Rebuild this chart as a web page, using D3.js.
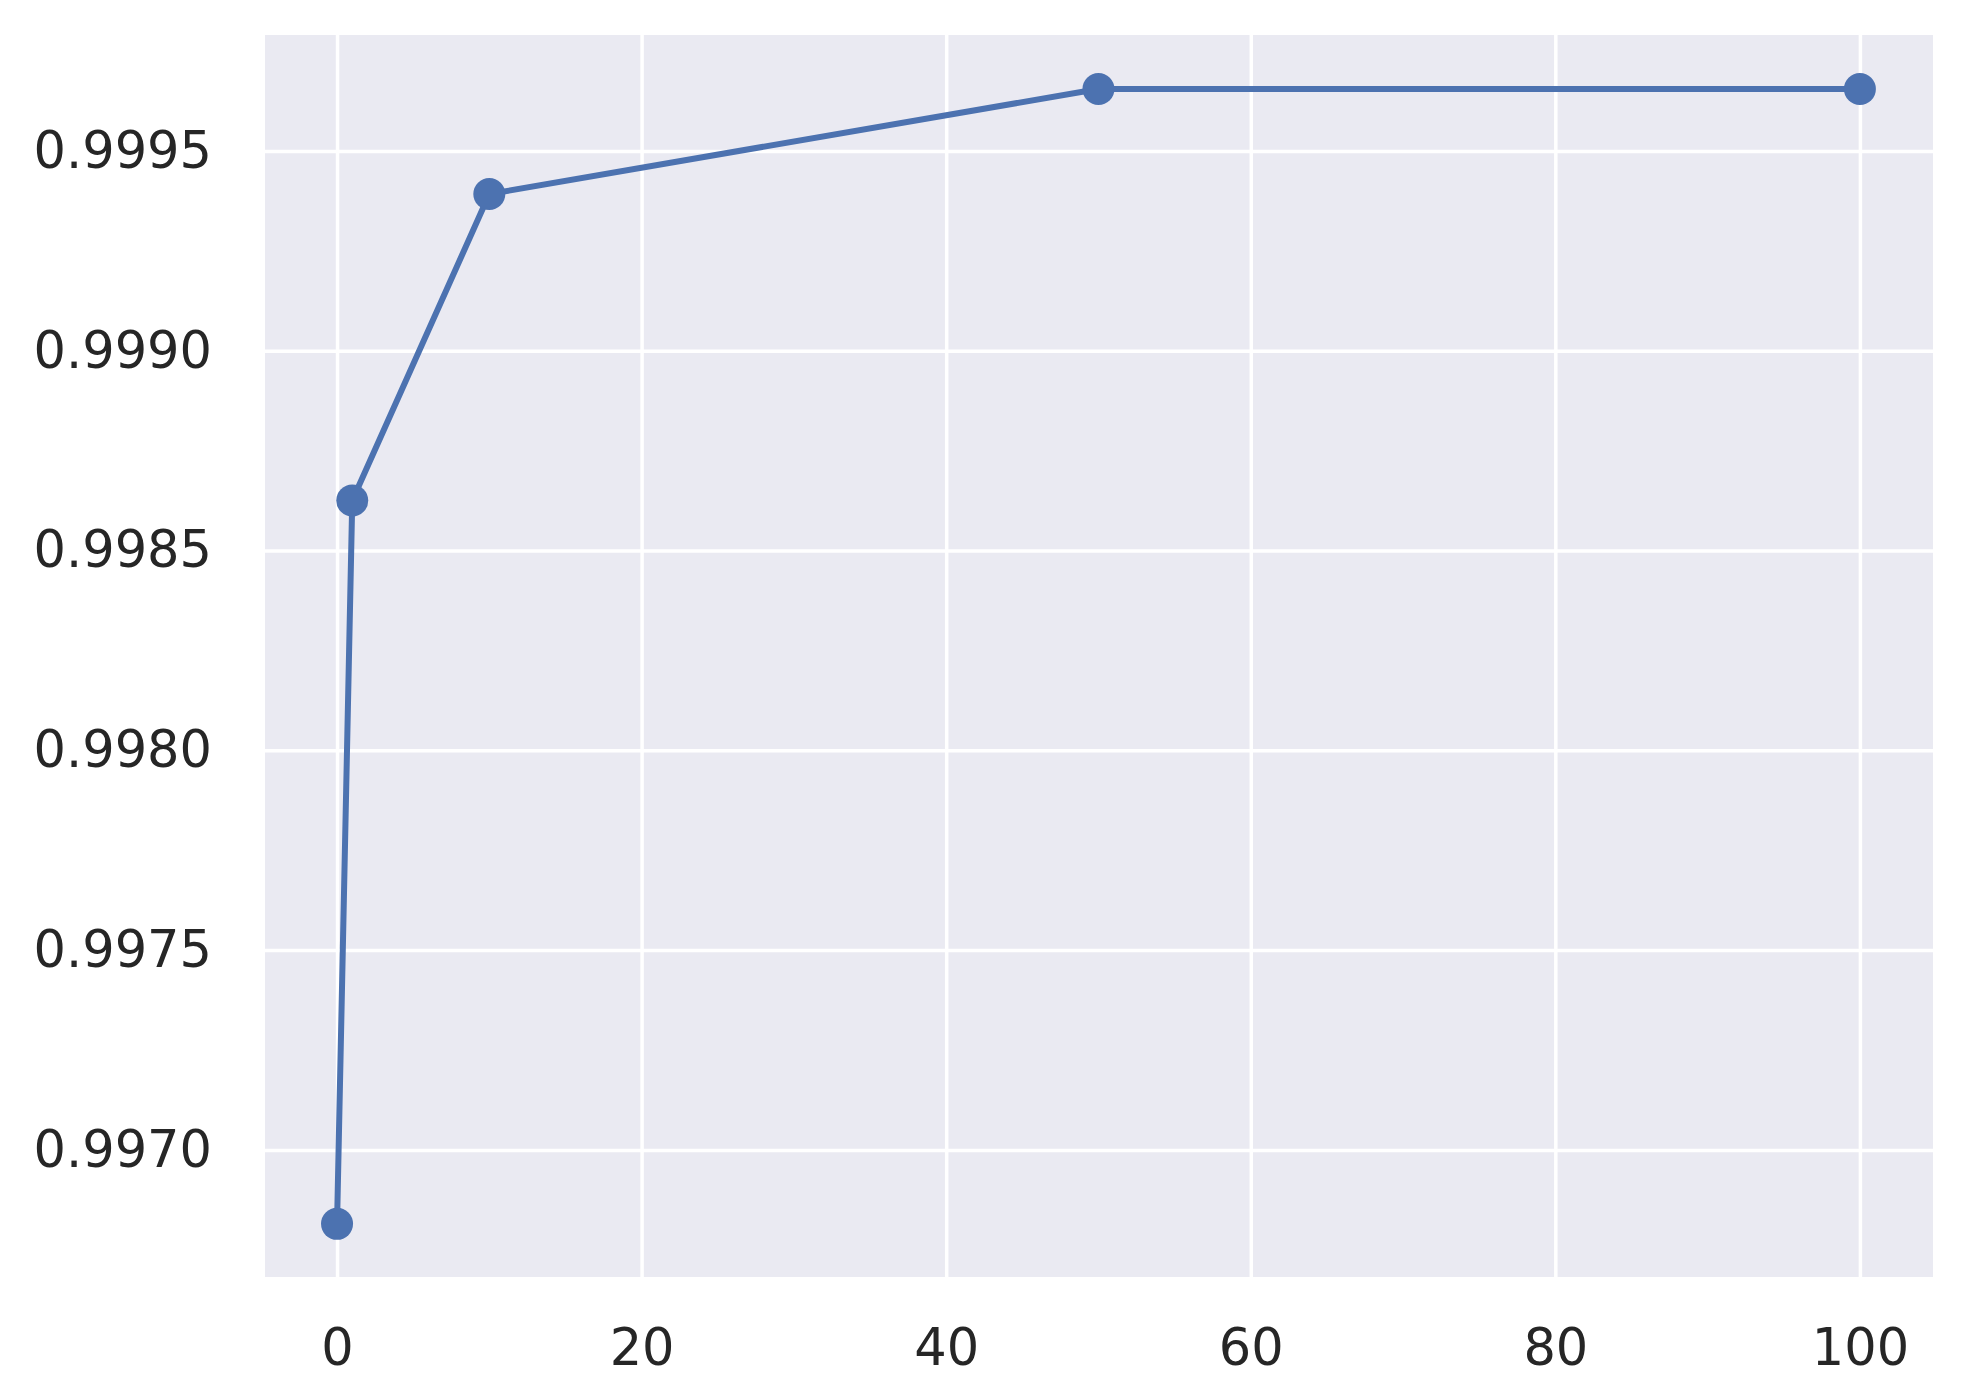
<!DOCTYPE html>
<html>
<head>
    <title>Line chart</title>
    <script src="https://d3js.org/d3.v7.min.js"></script>
    <style>
        body {
            margin: 0;
            background: #ffffff;
        }

        .axis text {
            font-family: "DejaVu Sans", sans-serif;
            font-size: 51px;
            fill: #262626;
        }

        .axis path.domain {
            display: none;
        }

        .axis line {
            stroke: #ffffff;
            stroke-width: 3.5px;
        }
    </style>
</head>
<body>
    <div id="chart"></div>

    <script>
        // data
        const xValues = [0, 1, 10, 50, 100];
        const yValues = [0.996815, 0.998625, 0.999392, 0.999655, 0.999655];

        const xTicks = [0, 20, 40, 60, 80, 100];
        const yTicks = [0.9970, 0.9975, 0.9980, 0.9985, 0.9990, 0.9995];

        const xDomain = [-4.73, 104.8];
        const yDomain = [0.996682, 0.99979];

        const data = xValues.map((x, i) => ({ x: x, y: yValues[i] }));

        const W = 1972, H = 1400;
        const margin = { top: 35, right: 39, bottom: 123, left: 265 },
            width = W - margin.left - margin.right,
            height = H - margin.top - margin.bottom;

        const x = d3.scaleLinear().domain(xDomain).range([0, width]);
        const y = d3.scaleLinear().domain(yDomain).range([height, 0]);

        const svg = d3.select("#chart").append("svg")
            .attr("width", W)
            .attr("height", H)
            .append("g")
            .attr("transform", `translate(${margin.left},${margin.top})`);

        svg.append("rect")
            .attr("width", width)
            .attr("height", height)
            .attr("fill", "#eaeaf2");

        svg.append("g")
            .attr("class", "axis")
            .attr("transform", `translate(0,${height})`)
            .call(d3.axisBottom(x)
                .tickValues(xTicks)
                .tickSize(-height)
                .tickPadding(52)
                .tickFormat(d3.format("d")));

        svg.append("g")
            .attr("class", "axis")
            .call(d3.axisLeft(y)
                .tickValues(yTicks)
                .tickSize(-width)
                .tickPadding(53)
                .tickFormat(d3.format(".4f")));

        const line = d3.line()
            .x(d => x(d.x))
            .y(d => y(d.y));

        svg.append("path")
            .datum(data)
            .attr("fill", "none")
            .attr("stroke", "#4c72b0")
            .attr("stroke-width", 6)
            .attr("stroke-linejoin", "round")
            .attr("d", line);

        svg.selectAll(".dot")
            .data(data)
            .enter().append("circle")
            .attr("class", "dot")
            .attr("cx", d => x(d.x))
            .attr("cy", d => y(d.y))
            .attr("r", 16)
            .attr("fill", "#4c72b0");
    </script>
</body>
</html>
